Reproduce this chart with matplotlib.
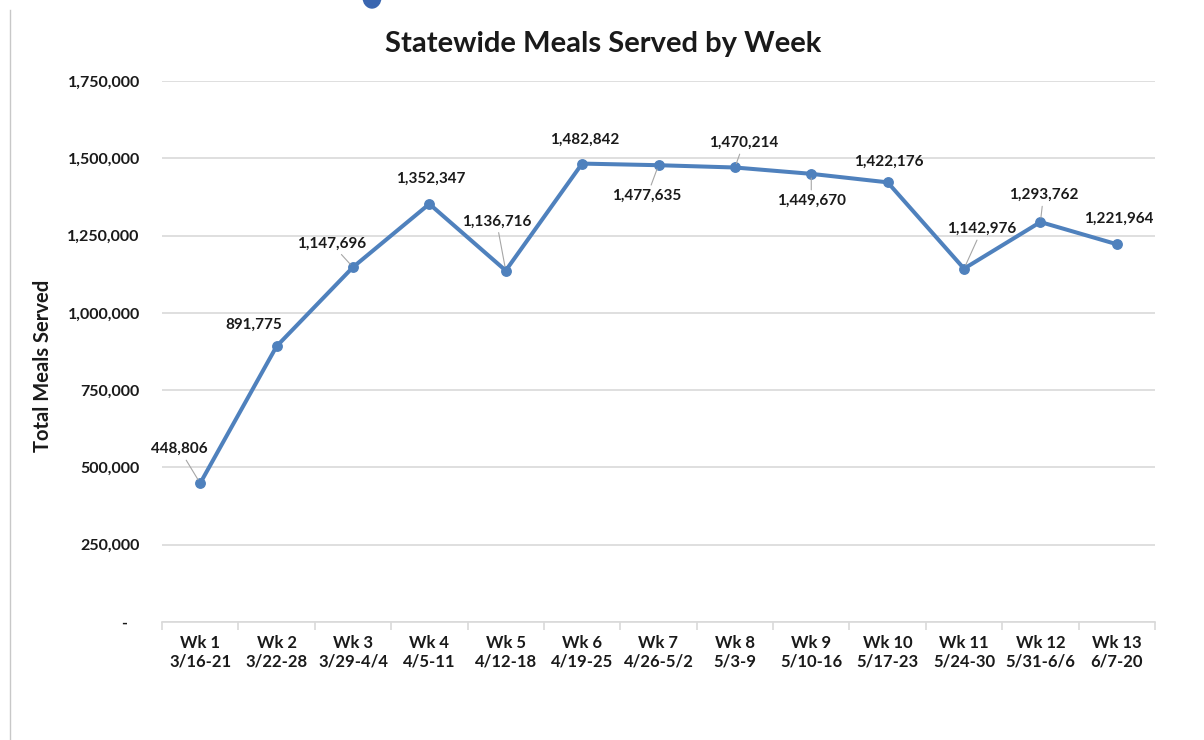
import numpy as np
import matplotlib.pyplot as plt
from matplotlib.lines import Line2D
from matplotlib.patches import Ellipse
from matplotlib.ticker import FuncFormatter, MultipleLocator

plt.rcParams['font.family'] = ['Lato', 'DejaVu Sans']

weeks = ["Wk 1", "Wk 2", "Wk 3", "Wk 4", "Wk 5", "Wk 6", "Wk 7",
         "Wk 8", "Wk 9", "Wk 10", "Wk 11", "Wk 12", "Wk 13"]
dates = ["3/16-21", "3/22-28", "3/29-4/4", "4/5-11", "4/12-18", "4/19-25", "4/26-5/2",
         "5/3-9", "5/10-16", "5/17-23", "5/24-30", "5/31-6/6", "6/7-20"]
meals = [448806, 891775, 1147696, 1352347, 1136716, 1482842, 1477635,
         1470214, 1449670, 1422176, 1142976, 1293762, 1221964]

# where excel put the data labels (offset in categories / meals) and which have leader lines
lab_dx = [-0.27, -0.30, -0.28, 0.02, -0.12, 0.035, -0.15, 0.115, 0.0, 0.02, 0.235, 0.04, 0.025]
lab_dy = [110000, 69000, 76000, 81000, 159000, 76000, -100000, 79000, -88000, 66000, 128000, 87000, 81000]
leader = [True, False, True, False, True, False, True, True, True, False, True, True, False]

blue = "#4F81BD"
grid = "#D9D9D9"
ink = "#1a1a1a"

fig = plt.figure(figsize=(12.04, 7.40), dpi=100)
ax = fig.add_axes([162/1204, 1-622/740, (1155-162)/1204, (622-81)/740])

x = np.arange(len(meals))
ax.plot(x, meals, color=blue, lw=2.9, marker='o', ms=6.8, zorder=3)

for i in range(len(meals)):
    txt = f"{meals[i]:,}"
    pos = (x[i] + lab_dx[i], meals[i] + lab_dy[i])
    if leader[i]:
        ax.annotate(txt, xy=(x[i], meals[i]), xytext=pos, ha='center', va='center',
                    fontsize=11, fontweight='bold', color=ink, zorder=4,
                    arrowprops=dict(arrowstyle='-', color='#A6A6A6', lw=0.8,
                                    shrinkA=1, shrinkB=3))
    else:
        ax.text(pos[0], pos[1], txt, ha='center', va='center',
                fontsize=11, fontweight='bold', color=ink, zorder=4)

ax.set_xlim(-0.5, len(meals) - 0.5)
ax.set_ylim(0, 1750000)
ax.yaxis.set_major_locator(MultipleLocator(250000))
ax.yaxis.set_major_formatter(FuncFormatter(lambda v, p: f"{v:,.0f}" if v else "-   "))
ax.set_xticks(x)
ax.set_xticklabels([w + "\n" + d for w, d in zip(weeks, dates)], fontsize=12,
                   fontweight='bold', linespacing=1.25)
ax.set_xticks(np.arange(-0.5, len(meals)), minor=True)
ax.tick_params(axis='x', which='major', length=0, pad=9, colors=ink)
ax.tick_params(axis='x', which='minor', length=6, color=grid, width=1.2)
ax.tick_params(axis='y', length=0, pad=16, labelsize=11.5, colors=ink)
for lab in ax.get_yticklabels():
    lab.set_fontweight('bold')

ax.grid(axis='y', color=grid, lw=1.2)
ax.set_axisbelow(True)
for s in ['left', 'right', 'top']:
    ax.spines[s].set_visible(False)
ax.spines['bottom'].set_color(grid)
ax.spines['bottom'].set_linewidth(1.2)

ax.set_ylabel("Total Meals Served", fontsize=14.5, fontweight='bold', color=ink)
ax.yaxis.label.set_va('center')
ax.yaxis.set_label_coords(-0.120, 0.473)

fig.text(603/1204, 1-44/740, "Statewide Meals Served by Week", ha='center', va='center',
         fontsize=21, fontweight='bold', color=ink)

# bits of the screenshot around the chart
fig.add_artist(Line2D([9.5/1204, 9.5/1204], [0, 1-10/740], color='#C8C8C8', lw=1))
fig.add_artist(Ellipse((372/1204, 1+3/740), 18/1204, 22/740, color='#3A66B0'))

plt.savefig("out.png", dpi=100)
